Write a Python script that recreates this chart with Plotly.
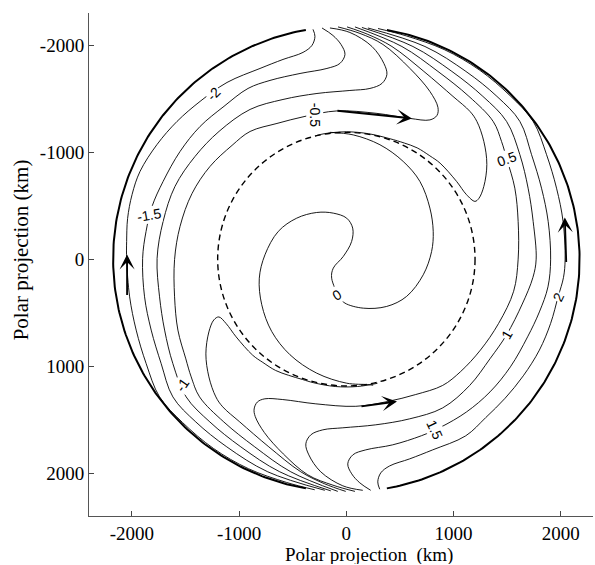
import numpy as np
import plotly.graph_objects as go

# ---------------------------------------------------------------------------
# Stream-function contour lines (km), one polyline per contour level
# (None separates pieces of the same level)
# ---------------------------------------------------------------------------
c_m20_x = [-311, -293, -321, -404, -591, -805, -1113, -1364, -1579, -1765, -1924, -1998, -2040, -2049, -2049,
           -2021, -1960, -1867, -1742, -1527, -1239, -913, -559, -295]
c_m20_y = [-2147, -2081, -1997, -1932, -1866, -1782, -1651, -1474, -1287, -1072, -820, -605, -380, -165, 0,
           352, 663, 976, 1287, 1527, 1769, 1958, 2086, 2155]

c_m15_x = [-227, -125, -50, -13, -60, -181, -432, -712, -917, -1141, -1364, -1551, -1709, -1812, -1868, -1900,
           -1882, -1820, -1727, -1618, -1404, -1115, -733, -201]
c_m15_y = [-2160, -2090, -2006, -1913, -1829, -1782, -1735, -1670, -1595, -1428, -1240, -1006, -726, -493, -259, -7,
           352, 663, 976, 1287, 1521, 1754, 1987, 2160]

c_m10_x = [-153, 33, 239, 350, 378, 332, 220, 33, -274, -591, -898, -1187, -1411, -1598, -1709, -1765,
           -1742, -1695, -1618, -1494, -1273, -984, -621, -145]
c_m10_y = [-2160, -2118, -1987, -1829, -1726, -1642, -1595, -1576, -1548, -1492, -1399, -1194, -960, -680, -352, -7,
           352, 663, 976, 1287, 1521, 1754, 1987, 2165]

c_m05_x = [-78, 127, 341, 593, 779, 854, 845, 779, 593, 285, -88, -386, -647, -898, -1066, -1271, -1439, -1551, -1602,
           -1602, -1571, -1497, -1447, -1369, -1143, -854, -518, -80]
c_m05_y = [-2170, -2109, -2006, -1782, -1567, -1418, -1343, -1301, -1315, -1362, -1385, -1334, -1268, -1193, -1063,
           -867, -614, -306, 3, 352, 663, 932, 1100, 1287, 1521, 1754, 1987, 2170]

c_00_x = [6, 201, 425, 723, 994, 1153, 1217, 1282, 1310, 1282, 1236, 1199, 1121, 1028, 874, 779, 660, 540, 407,
          207, 0, -207, -290, None,
          -153, 64, 313, 530, 686, 779, 810, 795, 717, 562, 376, 158, -13, -60,
          -137, -122, -29, 49, 59, 3, -122, -277, -463, -635, -759, -812, -789, -696, -526, -277, 3, 200, 250, None,
          290, 104, -104, -309, -407, -540, -660, -779, -874, -1028, -1121, -1189, -1236, -1282, -1310, -1282,
          -1217, -1153, -994, -723, -425, -201, -6]
c_00_y = [-2170, -2100, -1987, -1754, -1521, -1380, -1287, -1100, -885, -680, -568, -540, -602, -726, -897, -965,
          -1040, -1085, -1125, -1172, -1190, -1172, -1152, None,
          -1185, -1161, -1069, -913, -726, -477, -259, -72, 146, 348, 442, 458, 411, 360,
          178, 84, -25, -165, -290, -383, -430, -436, -383, -259, -41, 178, 426, 676, 893, 1065, 1159, 1172, 1178,
          None,
          1160, 1190, 1190, 1154, 1125, 1085, 1040, 965, 897, 726, 602, 540, 568, 680, 885, 1100,
          1287, 1380, 1521, 1754, 1987, 2100, 2170]

c_p05_x = [80, -125, -360, -588, -765, -850, -860, -830, -760, -593, -285, 88, 386, 647, 898, 1066, 1250, 1420,
           1560, 1602, 1602, 1571, 1497, 1447, 1369, 1143, 854, 518, 80]
c_p05_y = [2170, 2112, 2015, 1820, 1620, 1470, 1400, 1335, 1305, 1312, 1352, 1375, 1330, 1265, 1180, 1050, 850, 600,
           300, 0, -352, -663, -932, -1100, -1287, -1521, -1754, -1987, -2170]

c_p10_x = [153, -33, -239, -350, -378, -332, -220, -33, 274, 591, 898, 1150, 1340, 1494, 1640, 1740, 1770,
           1742, 1695, 1618, 1494, 1273, 984, 621, 145]
c_p10_y = [2160, 2118, 1987, 1829, 1726, 1642, 1595, 1576, 1548, 1492, 1390, 1180, 930, 707, 420, 170, 0,
           -352, -663, -976, -1287, -1521, -1754, -1987, -2165]

c_p15_x = [227, 125, 50, 13, 60, 181, 432, 700, 880, 1120, 1340, 1530, 1690, 1800, 1880, 1905,
           1882, 1820, 1727, 1618, 1404, 1115, 733, 201]
c_p15_y = [2160, 2090, 2006, 1913, 1829, 1782, 1735, 1650, 1570, 1428, 1240, 1006, 726, 493, 259, 0,
           -352, -663, -976, -1287, -1521, -1754, -1987, -2160]

c_p20_x = [311, 293, 321, 404, 591, 805, 1113, 1300, 1480, 1650, 1800, 1905, 1975, 2025, 2040,
           2021, 1960, 1867, 1742, 1527, 1239, 913, 559, 295]
c_p20_y = [2150, 2081, 1997, 1932, 1866, 1782, 1651, 1480, 1300, 1090, 850, 600, 350, 170, 0,
           -352, -663, -976, -1287, -1527, -1769, -1958, -2086, -2155]

contour_lines = [
    (c_m20_x, c_m20_y), (c_m15_x, c_m15_y), (c_m10_x, c_m10_y), (c_m05_x, c_m05_y),
    (c_00_x, c_00_y),
    (c_p05_x, c_p05_y), (c_p10_x, c_p10_y), (c_p15_x, c_p15_y), (c_p20_x, c_p20_y),
]

# contour labels: text, position (km), rotation (deg, clockwise)
label_text = ["-2", "-1.5", "-1", "-0.5", "0", "0.5", "1", "1.5", "2"]
label_x = [-1241, -1837, -1530, -293, -90, 1497, 1494, 826, 1975]
label_y = [-1547, -415, 1174, -1349, 333, -932, 707, 1594, 350]
label_angle = [-45, -10, -55, 90, -30, -20, -60, 65, -65]

# outer boundary (thick arcs) and the dashed inner circle
outer_radius = 2175
arc_left_deg = [100, 260]
arc_right_deg = [-80, 80]
inner_radius_x = 1200
inner_radius_y = 1185

# flow-direction arrows: tail -> head (km)
arrow_tail_x = [-2045, 2051, -97, 127]
arrow_tail_y = [349, 40, -1388, 1377]
arrow_head_x = [-2045, 2037, 611, 472]
arrow_head_y = [-44, -390, -1315, 1330]

# axes
x_range = [-2400, 2300]
y_range = [2400, -2300]
tick_vals = [-2000, -1000, 0, 1000, 2000]

fig = go.Figure()

for xs, ys in contour_lines:
    fig.add_trace(go.Scatter(
        x=xs, y=ys, mode="lines", connectgaps=False,
        line=dict(color="black", width=0.9, shape="spline", smoothing=1.0),
        hoverinfo="skip", showlegend=False))

for a0, a1 in (arc_left_deg, arc_right_deg):
    t = np.radians(np.linspace(a0, a1, 200))
    fig.add_trace(go.Scatter(
        x=outer_radius * np.cos(t), y=outer_radius * np.sin(t), mode="lines",
        line=dict(color="black", width=2.0),
        hoverinfo="skip", showlegend=False))

fig.add_shape(type="circle", xref="x", yref="y",
              x0=-inner_radius_x, x1=inner_radius_x, y0=-inner_radius_y, y1=inner_radius_y,
              line=dict(color="black", width=1.4, dash="6px,4px"))

for tx, ty, hx, hy in zip(arrow_tail_x, arrow_tail_y, arrow_head_x, arrow_head_y):
    fig.add_annotation(x=hx, y=hy, ax=tx, ay=ty, xref="x", yref="y", axref="x", ayref="y",
                       text="", showarrow=True, arrowhead=3, arrowsize=1.4, arrowwidth=1.8,
                       arrowcolor="black", standoff=0, startstandoff=0)

for txt, lx, ly, ang in zip(label_text, label_x, label_y, label_angle):
    fig.add_annotation(x=lx, y=ly, xref="x", yref="y", text=txt, showarrow=False,
                       textangle=ang, bgcolor="white", borderpad=0,
                       font=dict(family="Liberation Sans", size=14, color="black"))

# axis titles
fig.add_annotation(x=0.556, y=-0.0965, xref="paper", yref="paper", text="Polar projection \u00a0(km)",
                   showarrow=False, xanchor="center", yanchor="bottom", height=18, borderpad=0,
                   font=dict(family="Liberation Serif", size=19, color="black"))
fig.add_annotation(x=-0.135, y=0.53, xref="paper", yref="paper", text="Polar projection (km)",
                   showarrow=False, textangle=-90, xanchor="center", yanchor="middle",
                   font=dict(family="Liberation Serif", size=21, color="black"))

axis_common = dict(
    tickvals=tick_vals, ticktext=[str(v) for v in tick_vals],
    ticks="inside", ticklen=5, tickwidth=1, tickcolor="#444",
    showline=True, linecolor="#555", linewidth=1,
    showgrid=False, zeroline=False,
    tickfont=dict(family="Liberation Serif", size=19, color="black"),
)
fig.update_xaxes(range=x_range, **axis_common)
fig.update_yaxes(range=y_range, **axis_common)

fig.update_layout(
    width=595, height=565,
    margin=dict(l=89, r=2, t=13, b=49),
    paper_bgcolor="white", plot_bgcolor="white",
    showlegend=False,
)

fig.write_html("out.html")
